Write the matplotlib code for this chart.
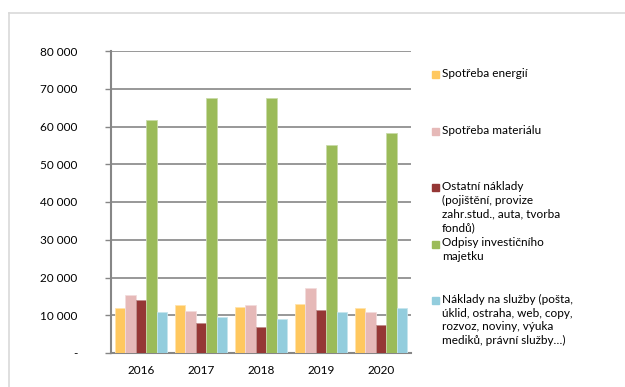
import numpy as np
import matplotlib.pyplot as plt
from matplotlib.patches import Rectangle
from matplotlib.ticker import FuncFormatter

plt.rcParams['font.family'] = ['Lato', 'DejaVu Sans']

roky = ['2016', '2017', '2018', '2019', '2020']
spotreba_energii = [12000, 12800, 12100, 13000, 12000]
spotreba_materialu = [15400, 11200, 12700, 17200, 10800]
ostatni_naklady = [14000, 8000, 6900, 11500, 7500]
odpisy = [61700, 67500, 67600, 55100, 58400]
sluzby = [10900, 9500, 9100, 10900, 11900]

nazvy = ['Spotřeba energií',
         'Spotřeba materiálu',
         'Ostatní náklady\n(pojištění, provize\nzahr.stud., auta, tvorba\nfondů)',
         'Odpisy investičního\nmajetku',
         'Náklady na služby (pošta,\núklid, ostraha, web, copy,\nrozvoz, noviny, výuka\nmediků, právní služby…)']
barvy = ['#FFC85F', '#E6B9B8', '#953735', '#9BBB59', '#93CDDD']
hrany = ['#FFE3AC', '#F3DCDB', '#C08E8C', '#C9DBA8', '#C6E6EE']

serie = [spotreba_energii, spotreba_materialu, ostatni_naklady, odpisy, sluzby]

fig = plt.figure(figsize=(6.25, 3.87), dpi=100)
W, H = 625, 387

# ramecek kolem grafu
fig.add_artist(plt.Line2D([9 / W, 9 / W], [1 - 13 / H, 0], color='#D9D9D9', lw=1.2))
fig.add_artist(plt.Line2D([9 / W, 1], [1 - 13 / H, 1 - 13 / H], color='#D9D9D9', lw=1.2))

ax = fig.add_axes([111 / W, 1 - 353 / H, 300 / W, 302 / H])

x = np.arange(len(roky))
sirka = 0.173
for i, (hodnoty, barva, hrana) in enumerate(zip(serie, barvy, hrany)):
    ax.bar(x + (i - 2) * sirka, hodnoty, sirka, color=barva, edgecolor=hrana,
           linewidth=0.6, zorder=3)

ax.set_xlim(-0.5, len(roky) - 0.5)
ax.set_ylim(0, 80000)
ax.set_yticks(np.arange(0, 80001, 10000))
ax.yaxis.set_major_formatter(FuncFormatter(
    lambda v, p: '-' if v == 0 else f'{int(v):,}'.replace(',', ' ')))
ax.set_xticks(x)
ax.set_xticklabels(roky)
ax.tick_params(axis='x', length=0, pad=9, labelsize=8.5)
ax.tick_params(axis='y', length=4, width=1, color='#868686', pad=20, labelsize=8.5)
ax.grid(axis='y', color='#868686', lw=1.2, zorder=0)
for s in ['top', 'right']:
    ax.spines[s].set_visible(False)
for s in ['left', 'bottom']:
    ax.spines[s].set_color('#868686')
    ax.spines[s].set_linewidth(1.5)

# legenda vpravo
for i, (nazev, barva) in enumerate(zip(nazvy, barvy)):
    y0 = 71 + i * 56.5
    fig.add_artist(Rectangle((432 / W, 1 - (y0 + 7) / H), 7 / W, 7 / H,
                             color=barva, transform=fig.transFigure))
    fig.text(442 / W, 1 - (y0 - 3) / H, nazev, fontsize=8.5, va='top',
             ha='left', linespacing=1.3)

fig.savefig('out.png', dpi=100)
